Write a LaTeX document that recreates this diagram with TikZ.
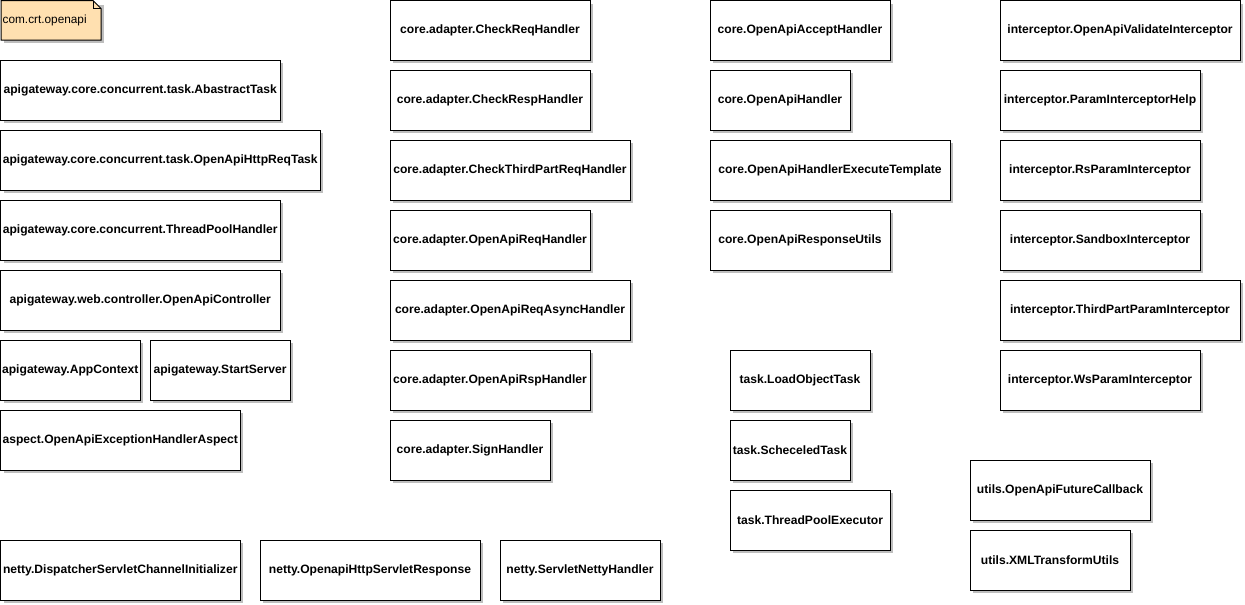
\documentclass[tikz,border=0pt]{standalone}
\usepackage{fontspec}
\setmainfont{Liberation Sans}
\usetikzlibrary{shadows}
\definecolor{notefill}{RGB}{255,224,176}
\definecolor{shadowgray}{RGB}{190,190,190}
\tikzset{
  umlclass/.style={draw=black, line width=1pt, fill=white, inner sep=0pt,
    font=\fontsize{12.1}{14}\selectfont\bfseries,
    drop shadow={shadow xshift=3pt, shadow yshift=-3pt, fill=shadowgray, opacity=1}},
  notetext/.style={inner sep=0pt, font=\fontsize{11.8}{13}\selectfont}
}
\newcommand\umlbox[6]{%
  \node[umlclass, minimum width={(#4-#2)*1pt}, minimum height={(#5-#3)*1pt}]
    (#1) at ({(#2+#4)/2},{(#3+#5)/2}) {#6};}
\begin{document}
\begin{tikzpicture}[x=1pt,y=-1pt]
\useasboundingbox (0,0) rectangle (1245,605);
% note
\fill[shadowgray] (4,5) -- (104,5) -- (104,43) -- (4,43) -- cycle;
\draw[line width=1pt, fill=notefill] (1,0.5) -- (93,0.5) -- (101,8.5) -- (101,40) -- (1,40) -- cycle;
\draw[line width=1pt] (93,0.5) -- (93,8.5) -- (101,8.5);
\node[notetext, anchor=west] (note) at (2.5,20) {com.crt.openapi};
% column 1
\umlbox{abs}{0.5}{60}{280}{120}{apigateway.core.concurrent.task.AbastractTask}
\umlbox{httpreq}{0.5}{130}{320}{190}{apigateway.core.concurrent.task.OpenApiHttpReqTask}
\umlbox{tph}{0.5}{200}{280}{260}{apigateway.core.concurrent.ThreadPoolHandler}
\umlbox{ctrl}{0.5}{270}{280}{330}{apigateway.web.controller.OpenApiController}
\umlbox{appctx}{0.5}{340}{140}{400}{apigateway.AppContext}
\umlbox{start}{150}{340}{290}{400}{apigateway.StartServer}
\umlbox{aspect}{0.5}{410}{240}{470}{aspect.OpenApiExceptionHandlerAspect}
\umlbox{dsci}{0.5}{540}{240}{600}{netty.DispatcherServletChannelInitializer}
\umlbox{ohsr}{260}{540}{480}{600}{netty.OpenapiHttpServletResponse}
\umlbox{snh}{500}{540}{660}{600}{netty.ServletNettyHandler}
% column 2
\umlbox{crh}{390}{0.5}{590}{60}{core.adapter.CheckReqHandler}
\umlbox{crsh}{390}{70}{590}{130}{core.adapter.CheckRespHandler}
\umlbox{ctprh}{390}{140}{630}{200}{core.adapter.CheckThirdPartReqHandler}
\umlbox{orh}{390}{210}{590}{270}{core.adapter.OpenApiReqHandler}
\umlbox{orah}{390}{280}{630}{340}{core.adapter.OpenApiReqAsyncHandler}
\umlbox{orsh}{390}{350}{590}{410}{core.adapter.OpenApiRspHandler}
\umlbox{sign}{390}{420}{550}{480}{core.adapter.SignHandler}
% column 3
\umlbox{oaah}{710}{0.5}{890}{60}{core.OpenApiAcceptHandler}
\umlbox{oah}{710}{70}{850}{130}{core.OpenApiHandler}
\umlbox{oahet}{710}{140}{950}{200}{core.OpenApiHandlerExecuteTemplate}
\umlbox{oaru}{710}{210}{890}{270}{core.OpenApiResponseUtils}
\umlbox{lot}{730}{350}{870}{410}{task.LoadObjectTask}
\umlbox{sct}{730}{420}{850}{480}{task.ScheceledTask}
\umlbox{tpe}{730}{490}{890}{550}{task.ThreadPoolExecutor}
% column 4
\umlbox{ovi}{1000}{0.5}{1240}{60}{interceptor.OpenApiValidateInterceptor}
\umlbox{pih}{1000}{70}{1200}{130}{interceptor.ParamInterceptorHelp}
\umlbox{rpi}{1000}{140}{1200}{200}{interceptor.RsParamInterceptor}
\umlbox{sbi}{1000}{210}{1200}{270}{interceptor.SandboxInterceptor}
\umlbox{tppi}{1000}{280}{1240}{340}{interceptor.ThirdPartParamInterceptor}
\umlbox{wpi}{1000}{350}{1200}{410}{interceptor.WsParamInterceptor}
\umlbox{ofc}{970}{460}{1150}{520}{utils.OpenApiFutureCallback}
\umlbox{xml}{970}{530}{1130}{590}{utils.XMLTransformUtils}
\end{tikzpicture}
\end{document}
